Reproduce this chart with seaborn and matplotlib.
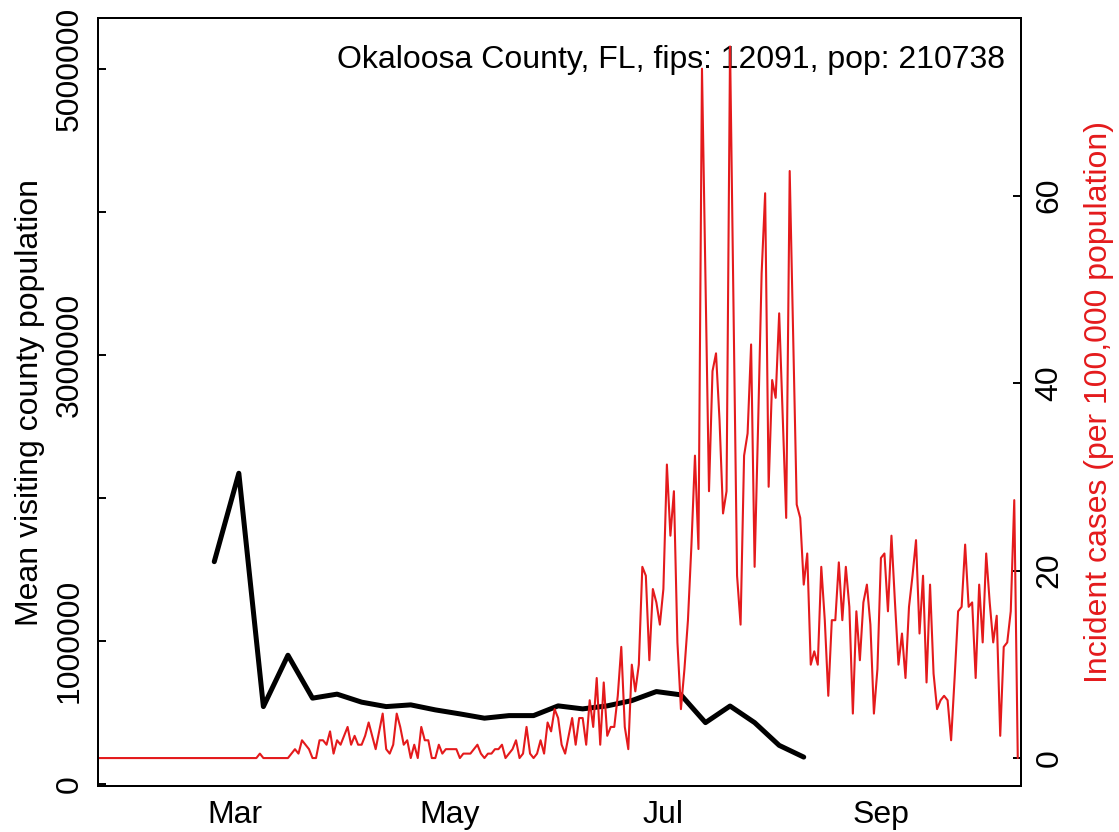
import numpy as np
import pandas as pd
import matplotlib
matplotlib.use('Agg')
import matplotlib.pyplot as plt
import matplotlib.dates as mdates
from matplotlib.ticker import FixedLocator, FuncFormatter
import seaborn as sns

sns.set_style('white')
plt.rcParams['font.family'] = ['Liberation Sans', 'DejaVu Sans']
plt.rcParams['text.color'] = 'black'
plt.rcParams['axes.labelcolor'] = 'black'
plt.rcParams['xtick.color'] = 'black'
plt.rcParams['ytick.color'] = 'black'

RED = '#E41A1C'
pop = 210738
title = 'Okaloosa County, FL, fips: 12091, pop: 210738'

# weekly mean visiting population (Mondays)
visit_dates = pd.date_range('2020-02-24', periods=25, freq='7D')
visit_pop = [1553000, 2171000, 540000, 899000, 599000, 627000, 571000, 540000,
             552000, 517000, 489000, 459000, 477000, 477000, 545000, 524000,
             545000, 582000, 645000, 622000, 428000, 544000, 428000, 269000,
             187000]

# daily new cases from 2020-01-22
daily_cases = [
    0, 0, 0, 0, 0, 0, 0, 0, 0, 0, 0, 0, 0, 0, 0, 0, 0, 0, 0, 0,
    0, 0, 0, 0, 0, 0, 0, 0, 0, 0, 0, 0, 0, 0, 0, 0, 0, 0, 0, 0,
    0, 0, 0, 0, 0, 0, 1, 0, 0, 0, 0, 0, 0, 0, 0,
    1, 2, 1, 4, 3, 2, 0, 0, 4, 4,
    3, 6, 1, 4, 3, 5, 7, 3, 5, 3,
    3, 5, 8, 5, 2, 6, 10, 2, 1, 3,
    10, 7, 3, 4, 0, 3, 0, 7, 4, 4,
    0, 0, 3, 1, 2, 2, 2, 2, 0, 1,
    1, 1, 2, 3, 1,
    0, 1, 1, 2, 2, 3, 0, 1, 2, 4,
    0, 1, 7, 1, 0, 1, 4, 1, 8, 6,
    11, 9, 3, 1, 5, 9, 3, 9, 9, 3,
    13, 7, 18, 3, 17, 5, 7, 7, 14, 25,
    7, 2, 21, 15, 21, 43, 41, 22, 38, 35,
    30,
    38, 66, 50, 60, 26, 11, 20, 31, 48, 68,
    47, 155, 108, 60, 87, 91, 76, 55, 60, 160,
    100, 41, 30, 68, 73, 93, 43, 75, 109, 127,
    61, 85, 81, 100, 77, 54, 132, 95, 57, 54,
    39, 46, 21, 24, 21, 43, 31, 14, 31, 31,
    44, 31, 43, 34, 10, 33, 22, 35, 39, 30,
    10, 20, 45, 46, 33, 50, 35, 21, 28, 18,
    34, 41, 49, 28, 41, 17, 39, 19, 11, 13,
    14, 13, 4, 18, 33, 34, 48, 34, 35, 18,
    39, 26, 46, 35, 26, 32, 5, 25, 26, 33,
    58, 0,
]
case_dates = pd.date_range('2020-01-22', periods=len(daily_cases), freq='D')
incidence = np.array(daily_cases) / pop * 1e5

fig = plt.figure(figsize=(11.19, 8.32), dpi=100)
ax = fig.add_axes([0.088, 0.0553, 0.8242, 0.9227])

sns.lineplot(x=visit_dates, y=visit_pop, ax=ax, color='black', lw=3.6)
ax2 = ax.twinx()
sns.lineplot(x=case_dates, y=incidence, ax=ax2, color=RED, lw=1.5)

x0 = pd.Timestamp('2020-01-22')
ax.set_xlim(x0, x0 + pd.Timedelta(days=262.85))
ax.set_ylim(-15000, 5351000)
ax2.set_ylim(-2.98, 78.93)

ax.xaxis.set_major_locator(mdates.MonthLocator(bymonth=[3, 5, 7, 9]))
ax.xaxis.set_major_formatter(mdates.DateFormatter('%b'))

ax.yaxis.set_major_locator(FixedLocator([0, 1e6, 2e6, 3e6, 4e6, 5e6]))
shown = {0, 1000000, 3000000, 5000000}
ax.yaxis.set_major_formatter(FuncFormatter(lambda v, p: f'{int(round(v))}' if int(round(v)) in shown else ''))
ax2.yaxis.set_major_locator(FixedLocator([0, 20, 40, 60]))

for a in (ax, ax2):
    for s in a.spines.values():
        s.set_color('black')
        s.set_linewidth(1.4)
ax.tick_params(axis='both', direction='in', length=6, width=1.4, labelsize=23, colors='black')
ax.tick_params(axis='x', pad=10)
ax.tick_params(axis='y', labelrotation=90, pad=10)
ax2.tick_params(axis='y', direction='in', length=6, width=1.4, labelsize=23, labelrotation=90, pad=10, colors='black')
for lbl in ax.get_yticklabels() + ax2.get_yticklabels():
    lbl.set_verticalalignment('center')

ax.set_xlabel('')
ax.set_ylabel('Mean visiting county population', fontsize=23, labelpad=7, color='black')
ax2.set_ylabel('Incident cases (per 100,000 population)', fontsize=23, color=RED, labelpad=14)

ax.text(0.983, 0.965, title, transform=ax.transAxes, ha='right', va='top', fontsize=23, color='black')

fig.savefig('out.png', dpi=100)
